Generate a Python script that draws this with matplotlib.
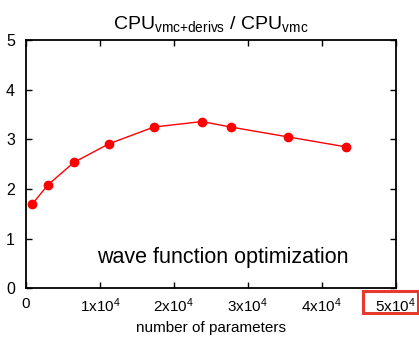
import matplotlib
matplotlib.use("Agg")
import matplotlib.pyplot as plt
from matplotlib.patches import Rectangle

plt.rcParams['font.family'] = ['Liberation Sans', 'DejaVu Sans']
plt.rcParams['mathtext.fontset'] = 'custom'
plt.rcParams['mathtext.rm'] = 'Liberation Sans'
plt.rcParams['mathtext.it'] = 'Liberation Sans'

n_params = [850, 3000, 6500, 11200, 17300, 23800, 27700, 35500, 43300]
cpu_ratio = [1.70, 2.09, 2.54, 2.91, 3.25, 3.36, 3.25, 3.05, 2.85]
x_ticks = [0, 10000, 20000, 30000, 40000, 50000]
x_tick_labels = ['0', r'1x10$^4$', r'2x10$^4$', r'3x10$^4$', r'4x10$^4$', r'5x10$^4$']
y_ticks = [0, 1, 2, 3, 4, 5]

fig = plt.figure(figsize=(4.19, 3.37), dpi=100)
ax = fig.add_axes([0.062, 0.144, 0.882, 0.737])
ax.plot(n_params, cpu_ratio, color='#ff0000', lw=1.0, marker='o', ms=6, mec='#ff0000', mfc='#ff0000')
ax.set_xlim(0, 50000)
ax.set_ylim(0, 5)
ax.set_xticks(x_ticks)
ax.set_xticklabels(x_tick_labels, fontsize=11)
ax.set_yticks(y_ticks)
ax.set_yticklabels([str(v) for v in y_ticks], fontsize=11.5)
ax.tick_params(direction='in', top=True, right=True, length=4, width=1)
ax.tick_params(axis='x', pad=6)
ax.tick_params(axis='y', pad=8)
for s in ax.spines.values():
    s.set_linewidth(1.3)
ax.set_xlabel('number of parameters', fontsize=11, labelpad=4)
ax.set_title(r'CPU$_{\mathrm{vmc{+}derivs}}$ / CPU$_{\mathrm{vmc}}$', fontsize=14, pad=8)
ax.text(0.874, 0.125, 'wave function optimization', transform=ax.transAxes,
        ha='right', va='center', fontsize=15.5)

fig.patches.append(Rectangle((363/419, 1 - 313/337), 55/419, 22/337,
                             transform=fig.transFigure, fill=False,
                             edgecolor='#e8392f', lw=2.2))
fig.savefig('out.png', dpi=100)
